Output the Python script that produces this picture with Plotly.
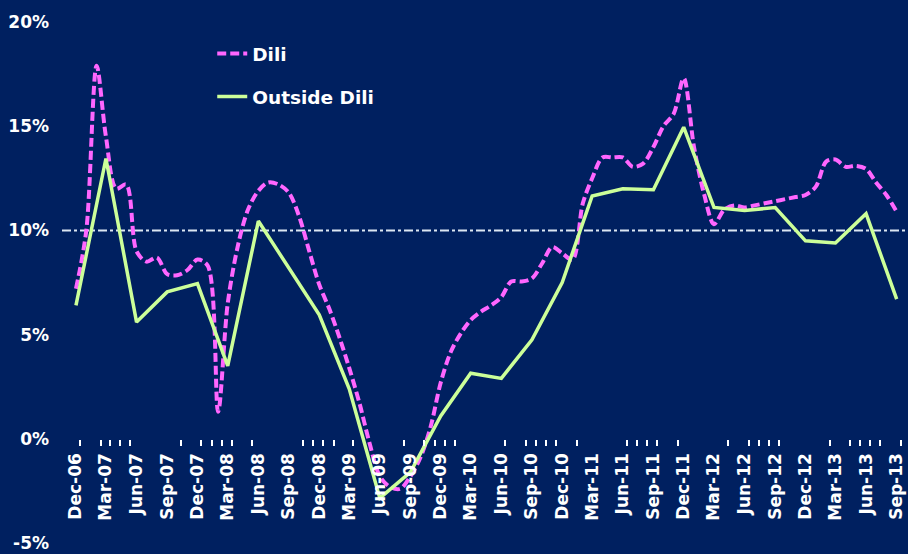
import pandas as pd
import plotly.graph_objects as go

# ---- data ----
dili_start = "2006-12-01"
dili_values = [7.2, 10.0, 17.9, 14.5, 12.0, 12.2, 9.0, 8.5, 8.7, 7.9,
               7.85, 8.1, 8.6, 8.3, 1.3, 6.5, 9.3, 11.0, 11.9, 12.3,
               12.2, 11.8, 10.7, 9.0, 7.4, 6.2, 4.8, 3.4, 1.7, -0.2,
               -1.8, -2.3, -2.4, -1.8, -0.9, 0.6, 2.7, 4.2, 5.1, 5.7,
               6.1, 6.4, 6.8, 7.55, 7.55, 7.7, 8.4, 9.2, 8.9, 8.6,
               11.3, 12.5, 13.5, 13.5, 13.5, 13.05, 13.2, 14.0, 15.0, 15.6,
               17.3, 14.0, 11.7, 10.3, 11.0, 11.2, 11.1, 11.2, 11.3, 11.4,
               11.5, 11.6, 11.7, 12.1, 13.3, 13.4, 13.05, 13.1, 12.95, 12.3,
               11.7, 10.9]
dili_dates = pd.date_range(dili_start, periods=len(dili_values), freq="MS")

outside_dates = ["2006-12-01", "2007-03-01", "2007-06-01", "2007-09-01", "2007-12-01",
                 "2008-03-01", "2008-06-01", "2008-09-01", "2008-12-01", "2009-03-01",
                 "2009-06-01", "2009-09-01", "2009-12-01", "2010-03-01", "2010-06-01",
                 "2010-09-01", "2010-12-01", "2011-03-01", "2011-06-01", "2011-09-01",
                 "2011-12-01", "2012-03-01", "2012-06-01", "2012-09-01", "2012-12-01",
                 "2013-03-01", "2013-06-01", "2013-09-01"]
outside_values = [6.4, 13.45, 5.6, 7.05, 7.45, 3.5, 10.45, 8.2, 5.95, 2.4,
                  -2.85, -1.6, 1.1, 3.15, 2.9, 4.75, 7.5, 11.65, 12.0, 11.95,
                  14.95, 11.1, 10.95, 11.1, 9.5, 9.4, 10.8, 6.7]

tick_marks = ["2006-12-13", "2007-02-13", "2007-03-13", "2007-04-13", "2007-05-13",
              "2007-10-13", "2007-12-13", "2008-01-13", "2008-02-13", "2008-03-13",
              "2008-05-13", "2008-10-13", "2008-11-13", "2008-12-13", "2009-01-13",
              "2009-03-13", "2009-08-13", "2009-10-13", "2009-11-13", "2009-12-13",
              "2010-01-13", "2010-06-13", "2010-08-13", "2010-09-13", "2010-10-13",
              "2010-11-13", "2011-01-13", "2011-06-13", "2011-07-13", "2011-08-13",
              "2011-09-13", "2011-11-13", "2012-04-13", "2012-06-13", "2012-07-13",
              "2012-08-13", "2012-09-13", "2013-02-13", "2013-04-13", "2013-05-13",
              "2013-06-13", "2013-07-13", "2013-09-13"]

y_ticks = [-5, 0, 5, 10, 15, 20]
y_tick_labels = ["-5%", "0%", "5%", "10%", "15%", "20%"]
reference_level = 10

# ---- style ----
BG = "#002060"
PINK = "#FF66FF"
GREEN = "#CCFF99"
FONT = dict(family="DejaVu Sans", size=17, color="white", weight="bold")
LEGEND_FONT = dict(family="DejaVu Sans", size=18.5, color="white", weight="bold")

fig = go.Figure()
fig.add_trace(go.Scatter(
    x=dili_dates, y=dili_values, name="Dili", mode="lines",
    line=dict(color=PINK, width=4, dash="9px,4px", shape="spline", smoothing=0.9),
    legendgroup="a"))
fig.add_trace(go.Scatter(
    x=outside_dates, y=outside_values, name="Outside Dili", mode="lines",
    line=dict(color=GREEN, width=3.5),
    legendgroup="b"))

fig.add_shape(type="line", xref="paper", x0=0, x1=1, yref="y",
              y0=reference_level, y1=reference_level,
              line=dict(color="#DCE6F2", width=2, dash="9px,3px,3px,3px"), layer="below")

fig.update_layout(
    width=908, height=554,
    paper_bgcolor=BG, plot_bgcolor=BG,
    margin=dict(l=62, r=2, t=22, b=11),
    font=FONT,
    showlegend=True,
    legend=dict(x=0.178, y=0.975, xanchor="left", yanchor="top",
                bgcolor="rgba(0,0,0,0)", font=LEGEND_FONT, tracegroupgap=16,
                traceorder="grouped", itemwidth=30),
    xaxis=dict(
        type="date", range=["2006-10-20", "2013-09-29"],
        anchor="free", position=0.2, automargin=False,
        tickformat="%b-%y", dtick="M3", tick0="2006-12-01",
        tickangle=-90, ticks="", showgrid=False, zeroline=False, showline=False,
        ticklabelstandoff=10,
        tickfont=FONT,
        minor=dict(tickmode="array", tickvals=tick_marks, ticks="outside",
                   ticklen=6, tickwidth=2, tickcolor="white", showgrid=False),
    ),
    yaxis=dict(
        range=[-5, 20], tickvals=y_ticks, ticktext=y_tick_labels, automargin=False,
        showgrid=False, zeroline=False, showline=False, ticks="",
        ticklabelstandoff=12, tickfont=FONT,
    ),
)

fig.write_html("out.html", config={"displayModeBar": False},
               post_script="document.body.style.margin='0';document.body.style.background='%s';" % BG)
